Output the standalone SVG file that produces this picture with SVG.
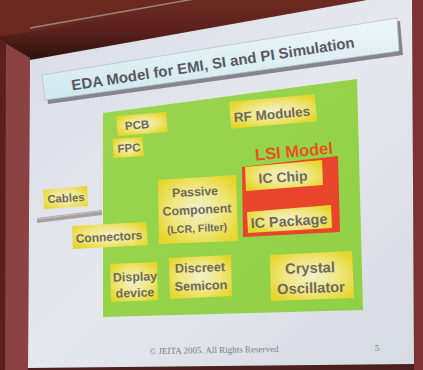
<svg xmlns="http://www.w3.org/2000/svg" width="423" height="370" viewBox="0 0 423 370">
<defs>
<linearGradient id="wood" x1="0" y1="0" x2="0" y2="1">
<stop offset="0" stop-color="#6e2a22"/>
<stop offset="0.5" stop-color="#5a211b"/>
<stop offset="1" stop-color="#2a100c"/>
</linearGradient>
<linearGradient id="slide" x1="0" y1="0" x2="1" y2="1">
<stop offset="0" stop-color="#d9dde6"/>
<stop offset="0.5" stop-color="#e6e8ee"/>
<stop offset="1" stop-color="#d6dae2"/>
</linearGradient>
<linearGradient id="title" x1="0" y1="0" x2="0" y2="1">
<stop offset="0" stop-color="#eef6f8"/>
<stop offset="1" stop-color="#cfe8f0"/>
</linearGradient>
<radialGradient id="yel" cx="0.5" cy="0.5" r="0.6">
<stop offset="0" stop-color="#f3f0cc"/>
<stop offset="0.55" stop-color="#f0e680"/>
<stop offset="1" stop-color="#e6d62a"/>
</radialGradient>
<linearGradient id="green" x1="0" y1="0" x2="1" y2="1">
<stop offset="0" stop-color="#9ad64e"/>
<stop offset="1" stop-color="#90d046"/>
</linearGradient>
<style>
.lbl{font-family:"Liberation Sans",Arial,sans-serif;font-weight:bold;fill:#6c6a5c;text-anchor:middle}
.box{fill:url(#yel)}
</style>
</defs>
<!-- background -->
<rect x="0" y="0" width="423" height="370" fill="#3a1612"/>
<polygon points="0,0 367,0 30,60 0,62" fill="url(#wood)"/>
<polygon points="0,0 200,0 30,32 0,36" fill="#6a2820"/>
<line x1="30" y1="28" x2="200" y2="-2" stroke="#a89a98" stroke-width="1.5" opacity="0.8"/>
<polygon points="0,40 30,58 28,370 0,370" fill="#8a4242"/>
<polygon points="0,40 6,42 5,370 0,370" fill="#5a2020"/>
<polygon points="412,0 423,0 423,370 414,370" fill="#7a3232"/>
<polygon points="28,368 414,364 414,370 28,370" fill="#4a2020"/>
<!-- slide -->
<polygon points="30,60 367,0 412,0 414,364 28,368" fill="url(#slide)"/>
<!-- title -->
<g id="title-box">
<polygon points="45,78 400,21 403,55 48,104" fill="#86848c"/>
<polygon points="42,75 397,18 399,51 45,100" fill="url(#title)" stroke="#b8c0c8" stroke-width="0.8"/>
<text x="213" y="69" transform="rotate(-8.7 213 64)" font-family="'Liberation Sans',Arial,sans-serif" font-weight="bold" font-size="15" fill="#58585e" text-anchor="middle">EDA Model for EMI, SI and PI Simulation</text>
</g>
<!-- green area -->
<polygon id="board" points="103,113 357,79 363,310 103,317" fill="url(#green)"/>
<!-- connectors -->
<g id="connectors">
<polygon points="37,218 102,210 102,215 37,223" fill="#a8a0a0"/>
<line x1="37" y1="219" x2="102" y2="211" stroke="#c8c2c2" stroke-width="1"/>
</g>
<g id="pcb">
<rect class="box" x="117" y="114" width="50" height="20" transform="rotate(-5 142 124)"/>
<text class="lbl" x="137" y="129" font-size="11.5" transform="rotate(-5 137 125)">PCB</text>
</g>
<g id="fpc">
<rect class="box" x="113" y="138" width="30" height="19" transform="rotate(-4 128 147)"/>
<text class="lbl" x="129" y="152" font-size="11.5" transform="rotate(-4 129 148)">FPC</text>
</g>
<g id="rf-modules">
<rect class="box" x="230" y="98" width="86" height="27" transform="rotate(-5 273 111)"/>
<text class="lbl" x="272" y="119" font-size="13.5" transform="rotate(-5 272 114)">RF Modules</text>
</g>
<g id="lsi-model">
<polygon points="242,167 338,156 340,232 243,237" fill="#e8452a"/>
<text x="294" y="157" font-family="'Liberation Sans',Arial,sans-serif" font-weight="bold" font-size="16.5" fill="#e6541e" text-anchor="middle" transform="rotate(-5 294 152)">LSI Model</text>
</g>
<g id="ic-chip">
<polygon class="box" points="245,167 322,160 323,185 246,191"/>
<text class="lbl" x="283" y="182" font-size="14" transform="rotate(-3.5 283 177)">IC Chip</text>
</g>
<g id="ic-package">
<polygon class="box" points="247,212 331,205 332,228 248,233"/>
<text class="lbl" x="289" y="226" font-size="14.4" transform="rotate(-3.5 289 221)">IC Package</text>
</g>
<g id="passive">
<polygon class="box" points="158,180 236,175 238,241 159,244"/>
<text class="lbl" x="195" y="196" font-size="12.4" transform="rotate(-3 195 192)">Passive</text>
<text class="lbl" x="197" y="214" font-size="12.4" transform="rotate(-3 197 210)">Component</text>
<text class="lbl" x="197" y="232" font-size="10.5" transform="rotate(-3 197 228)">(LCR, Filter)</text>
</g>
<g id="cables">
<polygon class="box" points="43,190 87,186 88,206 44,209"/>
<text class="lbl" x="66" y="202" font-size="11.3" transform="rotate(-3 66 198)">Cables</text>
</g>
<g id="connectors-node">
<polygon class="box" points="72,226 146,222 148,245 73,249"/>
<text class="lbl" x="109" y="241" font-size="12" transform="rotate(-3 109 237)">Connectors</text>
</g>
<g id="display">
<polygon class="box" points="110,264 157,262 158,300 111,302"/>
<text class="lbl" x="135" y="281" font-size="12.4" transform="rotate(-2 135 277)">Display</text>
<text class="lbl" x="135" y="297" font-size="12.4" transform="rotate(-2 135 293)">device</text>
</g>
<g id="discreet">
<polygon class="box" points="169,258 231,255 232,296 170,299"/>
<text class="lbl" x="200" y="272" font-size="12.7" transform="rotate(-2 200 268)">Discreet</text>
<text class="lbl" x="201" y="290" font-size="12.7" transform="rotate(-2 201 286)">Semicon</text>
</g>
<g id="crystal">
<polygon class="box" points="270,255 352,251 354,298 271,301"/>
<text class="lbl" x="310" y="273" font-size="14.7" transform="rotate(-2 310 268)">Crystal</text>
<text class="lbl" x="311" y="293" font-size="14.7" transform="rotate(-2 311 288)">Oscillator</text>
</g>
<!-- footer -->
<text x="214" y="353" font-family="'Liberation Serif','Times New Roman',serif" font-size="9" fill="#7c7c84" text-anchor="middle" transform="rotate(-1 214 350)">© JEITA 2005. All Rights Reserved</text>
<text x="377" y="351" font-family="'Liberation Serif','Times New Roman',serif" font-size="9" fill="#7c7c84" text-anchor="middle">5</text>
</svg>
